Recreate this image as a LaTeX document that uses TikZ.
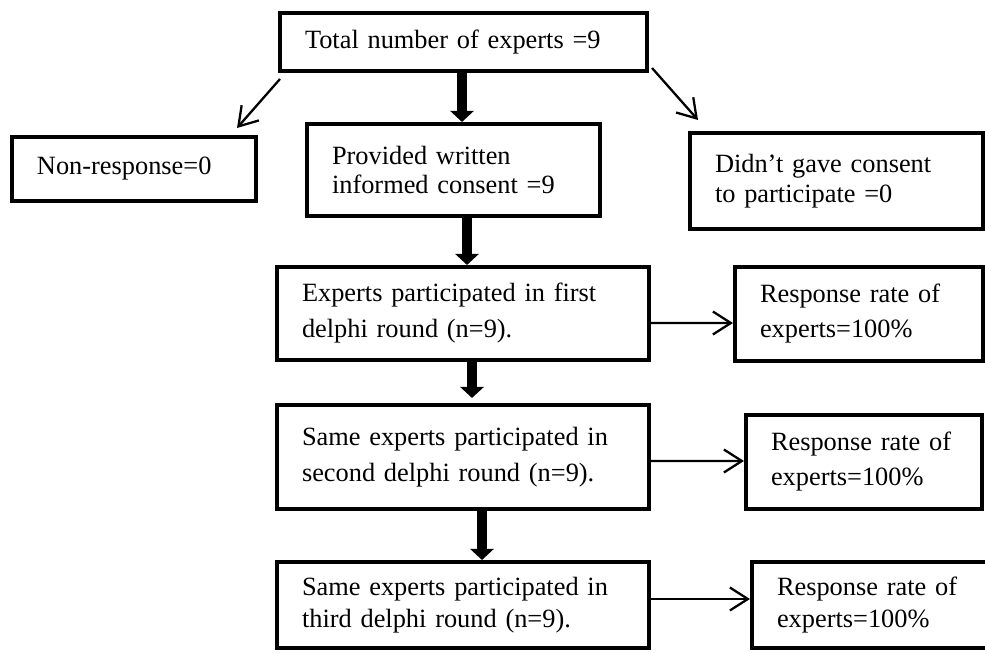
\documentclass[tikz,border=0pt]{standalone}
\usepackage{fontspec}
\setmainfont{Liberation Serif}
\usetikzlibrary{arrows.meta}

\tikzset{
  box/.style={draw, line width=2.3pt, align=left, inner xsep=0.5cm, inner ysep=0pt,
    font=\fontsize{15}{20.5}\selectfont},
  thinarrow/.style={line width=1.3pt, -{Straight Barb[length=0.36cm,width=0.46cm]}},
  fatarrow/.style={line width=5.5pt, -{Triangle[length=0.22cm,width=0.46cm]}},
}

\begin{document}
\begin{tikzpicture}
    \useasboundingbox (0,0) rectangle (19.70,-13.06);
    % top row
    \node[box, minimum width=7.34cm, minimum height=1.16cm, text width=6.34cm] (total) at (9.27,-0.84) {Total number of experts =9};
    \node[box, minimum width=4.88cm, minimum height=1.28cm, text width=3.88cm] (nonresp) at (2.68,-3.38) {Non-response=0};
    \node[box, minimum width=5.86cm, minimum height=1.84cm, text width=4.86cm, font=\fontsize{15}{16.3}\selectfont] (consent) at (9.07,-3.40) {Provided written\\informed consent =9};
    \node[box, minimum width=5.86cm, minimum height=1.92cm, text width=4.86cm, font=\fontsize{15}{17.4}\selectfont] (noconsent) at (16.73,-3.62) {Didn’t gave consent\\to participate =0};
    % delphi rounds
    \node[box, minimum width=7.44cm, minimum height=1.86cm, text width=6.44cm] (round1) at (9.26,-6.27) {Experts participated in first\\delphi round (n=9).};
    \node[box, minimum width=4.96cm, minimum height=1.88cm, text width=3.96cm, font=\fontsize{15}{19.9}\selectfont] (rate1) at (17.18,-6.28) {Response rate of\\experts=100\%};
    \node[box, minimum width=7.44cm, minimum height=2.08cm, text width=6.44cm] (round2) at (9.26,-9.14) {Same experts participated in\\second delphi round (n=9).};
    \node[box, minimum width=4.72cm, minimum height=1.88cm, text width=3.72cm, font=\fontsize{15}{19.9}\selectfont] (rate2) at (17.28,-9.24) {Response rate of\\experts=100\%};
    \node[box, minimum width=7.44cm, minimum height=1.72cm, text width=6.44cm, font=\fontsize{15}{18}\selectfont] (round3) at (9.26,-12.10) {Same experts participated in\\third delphi round (n=9).};
    \node[box, minimum width=4.86cm, minimum height=1.72cm, text width=3.86cm, font=\fontsize{15}{18}\selectfont] (rate3) at (17.47,-12.10) {Response rate of\\experts=100\%};
    %
    \draw[fatarrow] ([xshift=-0.03cm]total.south) -- ([xshift=0.17cm]consent.north);
    \draw[fatarrow] ([xshift=0.27cm]consent.south) -- ([xshift=0.08cm]round1.north);
    \draw[fatarrow] ([xshift=0.18cm]round1.south) -- ([xshift=0.18cm,yshift=0.1cm]round2.north);
    \draw[fatarrow] ([xshift=0.38cm]round2.south) -- ([xshift=0.38cm]round3.north);
    %
    \draw[thinarrow] ([shift={(0.04,-0.12)}]total.south west) -- ([shift={(-0.42,0.14)}]nonresp.north east);
    \draw[thinarrow] ([shift={(0.06,0.1)}]total.south east) -- ([shift={(0.2,0.22)}]noconsent.north west);
    \draw[thinarrow] ([yshift=-0.19cm]round1.east) -- ([yshift=-0.18cm]rate1.west);
    \draw[thinarrow] ([yshift=-0.08cm]round2.east) -- ([yshift=0.02cm]rate2.west);
    \draw[thinarrow] ([yshift=0.12cm]round3.east) -- ([yshift=0.12cm]rate3.west);
\end{tikzpicture}
\end{document}
